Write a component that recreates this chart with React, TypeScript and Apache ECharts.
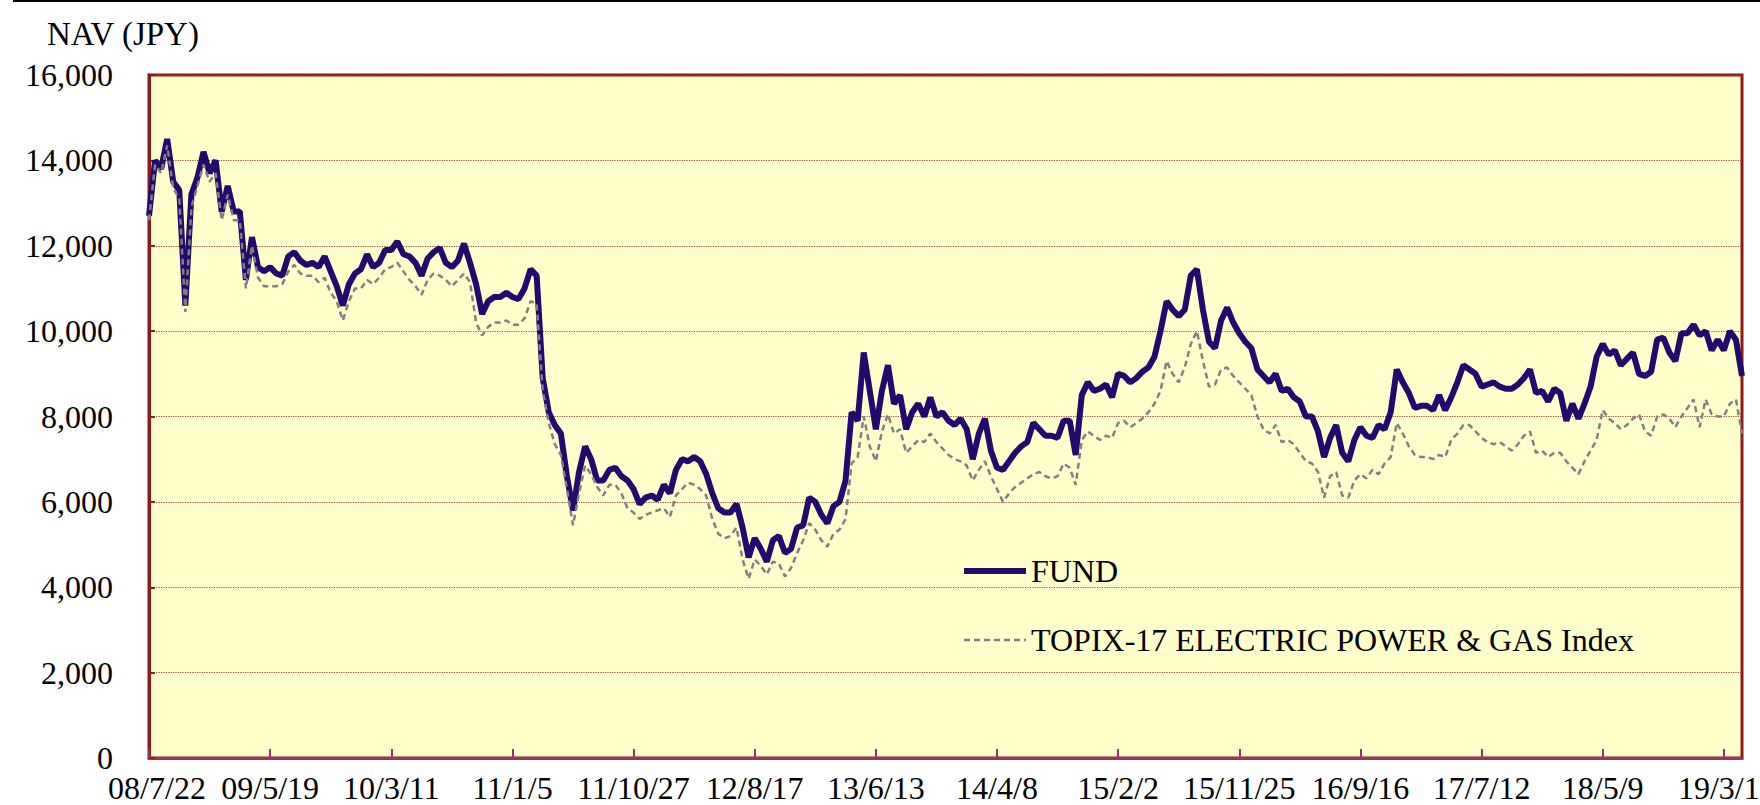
import React, { useEffect, useRef } from 'react';
import * as echarts from 'echarts';

const tickLabels = ['08/7/22', '09/5/19', '10/3/11', '11/1/5', '11/10/27', '12/8/17', '13/6/13', '14/4/8', '15/2/2', '15/11/25', '16/9/16', '17/7/12', '18/5/9', '19/3/1'];

const fund = [
  12700, 14000, 13800, 14500, 13500, 13300, 10600, 13200, 13600, 14200,
  13700, 14000, 12800, 13400, 12800, 12800, 11200, 12200, 11500, 11400,
  11500, 11350, 11300, 11750, 11850, 11650, 11550, 11600, 11500, 11750,
  11400, 11050, 10600, 11100, 11350, 11450, 11800, 11500, 11600, 11900,
  11900, 12100, 11800, 11750, 11600, 11300, 11700, 11850, 11950, 11600,
  11500, 11650, 12050, 11600, 11100, 10400, 10700, 10800, 10800, 10900,
  10800, 10750, 11000, 11450, 11300, 8900, 8100, 7800, 7600, 6600,
  5800, 6700, 7300, 7000, 6500, 6500, 6750, 6800, 6600, 6500,
  6300, 5950, 6100, 6150, 6050, 6400, 6200, 6750, 7000, 6950,
  7050, 6950, 6650, 6200, 5850, 5750, 5750, 5950, 5400, 4700,
  5150, 4900, 4600, 5100, 5200, 4800, 4900, 5400, 5450, 6100,
  6000, 5700, 5500, 5900, 6000, 6500, 8100, 7900, 9500, 8600,
  7700, 8600, 9200, 8300, 8500, 7700, 8100, 8300, 8000, 8450,
  8000, 8100, 7900, 7800, 7950, 7700, 7000, 7600, 7950, 7200,
  6800, 6750, 6950, 7150, 7300, 7400, 7850, 7700, 7550, 7550,
  7500, 7900, 7900, 7100, 8500, 8800, 8600, 8650, 8750, 8450,
  9000, 8950, 8800, 8900, 9050, 9150, 9400, 10000, 10700, 10500,
  10350, 10500, 11300, 11450, 10500, 9750, 9600, 10250, 10550, 10200,
  9950, 9750, 9600, 9100, 8950, 8800, 9000, 8600, 8650, 8450,
  8350, 8000, 8000, 7650, 7050, 7500, 7800, 7150, 6950, 7450,
  7750, 7550, 7500, 7800, 7700, 8100, 9100, 8800, 8550, 8200,
  8250, 8250, 8150, 8500, 8150, 8450, 8800, 9200, 9100, 9000,
  8700, 8750, 8800, 8700, 8650, 8650, 8750, 8900, 9100, 8550,
  8600, 8350, 8650, 8550, 7900, 8300, 7950, 8300, 8700, 9400,
  9700, 9450, 9550, 9200, 9350, 9500, 9000, 8950, 9050, 9800,
  9850, 9500, 9300, 9950, 9950, 10150, 9900, 10000, 9550, 9800,
  9550, 10000, 9800, 8950,
];

const topix = [
  12600, 13900, 13700, 14350, 13350, 13100, 10450, 12900, 13400, 13900,
  13500, 13700, 12600, 13200, 12600, 12600, 11000, 12000, 11250, 11050,
  11050, 11050, 11100, 11400, 11550, 11350, 11300, 11300, 11150, 11250,
  10900, 10700, 10250, 10700, 11000, 11000, 11200, 11100, 11250, 11450,
  11500, 11600, 11400, 11200, 11050, 10850, 11200, 11350, 11300, 11200,
  11050, 11200, 11350, 11150, 10200, 9900, 10100, 10200, 10200, 10250,
  10150, 10150, 10300, 10700, 10650, 8600, 7850, 7350, 7100, 6300,
  5450, 6200, 6850, 6650, 6350, 6150, 6400, 6400, 6200, 5850,
  5750, 5600, 5700, 5750, 5800, 5850, 5650, 6150, 6300, 6450,
  6400, 6300, 6150, 5600, 5250, 5150, 5200, 5400, 4650, 4200,
  4650, 4500, 4300, 4600, 4550, 4250, 4450, 4800, 5100, 5500,
  5350, 5100, 4950, 5250, 5350, 5600, 6900, 7050, 8000, 7300,
  6950, 7650, 8050, 7600, 7700, 7150, 7300, 7450, 7400, 7600,
  7400, 7250, 7100, 7000, 6950, 6850, 6500, 6750, 6950, 6600,
  6300, 6000, 6200, 6350, 6450, 6550, 6650, 6700, 6600, 6550,
  6600, 6900, 6800, 6400, 7450, 7650, 7550, 7450, 7550, 7500,
  7850, 7900, 7750, 7850, 7950, 8100, 8300, 8600, 9300, 9000,
  8800, 9150, 9700, 10000, 9300, 8700, 8750, 9100, 9150, 8950,
  8800, 8650, 8500, 8000, 7700, 7600, 7800, 7400, 7450, 7350,
  7150, 6950, 6900, 6700, 6100, 6600, 6700, 6150, 6100, 6500,
  6650, 6550, 6750, 6650, 6900, 7050, 7850, 7600, 7300, 7100,
  7050, 7050, 7000, 7100, 7050, 7450, 7600, 7800, 7800, 7650,
  7500, 7400, 7350, 7400, 7300, 7200, 7350, 7550, 7650, 7150,
  7200, 7050, 7150, 7150, 6950, 6800, 6650, 6950, 7200, 7450,
  8150, 7950, 7850, 7700, 7800, 7950, 8050, 7650, 7550, 8000,
  8050, 7950, 7750, 8000, 8200, 8400, 7750, 8400, 8050, 8000,
  8000, 8300, 8400, 7600,
];

const seriesNames = ['FUND', 'TOPIX-17 ELECTRIC POWER & GAS Index'];

const FONT = "'Liberation Serif', 'Times New Roman', serif";

export default function App() {
  const ref = useRef<HTMLDivElement>(null);

  useEffect(() => {
    const chart = echarts.init(ref.current!, null, { renderer: 'svg' });
    const lastTick = (tickLabels.length - 1) * 20;
    chart.setOption({
      animation: false,
      backgroundColor: '#ffffff',
      textStyle: { fontFamily: FONT },
      grid: {
        left: 149,
        right: 18,
        top: 75,
        bottom: 47,
        show: true,
        containLabel: false,
        outerBoundsMode: 'none',
        backgroundColor: '#FFFFCC',
        borderColor: '#8B1A1A',
        borderWidth: 3,
      },
      graphic: [
        { type: 'rect', shape: { x: 13, y: 0, width: 1747, height: 2 }, style: { fill: '#000' }, silent: true },
        {
          type: 'text',
          x: 47,
          y: 34,
          style: { text: 'NAV (JPY)', font: `33px ${FONT}`, fill: '#000', textVerticalAlign: 'middle' },
        },
      ],
      legend: {
        orient: 'vertical',
        left: 956,
        top: 550,
        itemWidth: 62,
        itemHeight: 16,
        itemGap: 37,
        data: seriesNames,
        itemStyle: { opacity: 0 },
        lineStyle: { width: 'inherit' },
        textStyle: { fontSize: 32, fontFamily: FONT, color: '#000' },
        selectedMode: false,
      },
      xAxis: {
        type: 'value',
        min: 0,
        max: fund.length - 1,
        interval: 20,
        splitLine: { show: false },
        axisLine: { show: true, lineStyle: { color: '#993366', width: 3 } },
        axisTick: { show: true, inside: true, length: 9, lineStyle: { color: '#993366', width: 2 } },
        axisLabel: {
          fontSize: 32,
          fontFamily: FONT,
          color: '#000',
          margin: 14,
          showMaxLabel: false,
          formatter: (v: number) => {
            if (v % 20 !== 0) return '';
            const t = tickLabels[v / 20] ?? '';
            if (v === 0) return `{first|${t}}`;
            if (v === lastTick) return `{last|${t}}`;
            return t;
          },
          rich: {
            first: { fontSize: 32, fontFamily: FONT, color: '#000', padding: [0, 0, 0, 16] },
            last: { fontSize: 32, fontFamily: FONT, color: '#000', padding: [0, 10, 0, 0] },
          },
        },
      },
      yAxis: {
        type: 'value',
        min: 0,
        max: 16000,
        interval: 2000,
        axisLine: { show: true, lineStyle: { color: '#8B1A1A', width: 3 } },
        axisTick: { show: true, inside: true, length: 6, lineStyle: { color: '#8B1A1A', width: 2 } },
        splitLine: { show: true, lineStyle: { color: '#A8443A', type: 'dotted', width: 1.2 } },
        axisLabel: {
          fontSize: 32,
          fontFamily: FONT,
          color: '#000',
          margin: 36,
          formatter: (v: number) => v.toLocaleString('en-US'),
        },
      },
      series: [
        {
          name: seriesNames[0],
          type: 'line',
          symbol: 'none',
          data: fund.map((v, i) => [i, v]),
          lineStyle: { color: '#21096E', width: 6 },
          itemStyle: { color: '#21096E' },
          z: 2,
        },
        {
          name: seriesNames[1],
          type: 'line',
          symbol: 'none',
          data: topix.map((v, i) => [i, v]),
          lineStyle: { color: '#808080', width: 2.5, type: [6, 4] },
          itemStyle: { color: '#808080' },
          z: 3,
        },
      ],
    });
    return () => chart.dispose();
  }, []);

  return (
    <div
      ref={ref}
      style={{ position: 'absolute', left: 0, top: 0, width: 1760, height: 805 }}
    />
  );
}
